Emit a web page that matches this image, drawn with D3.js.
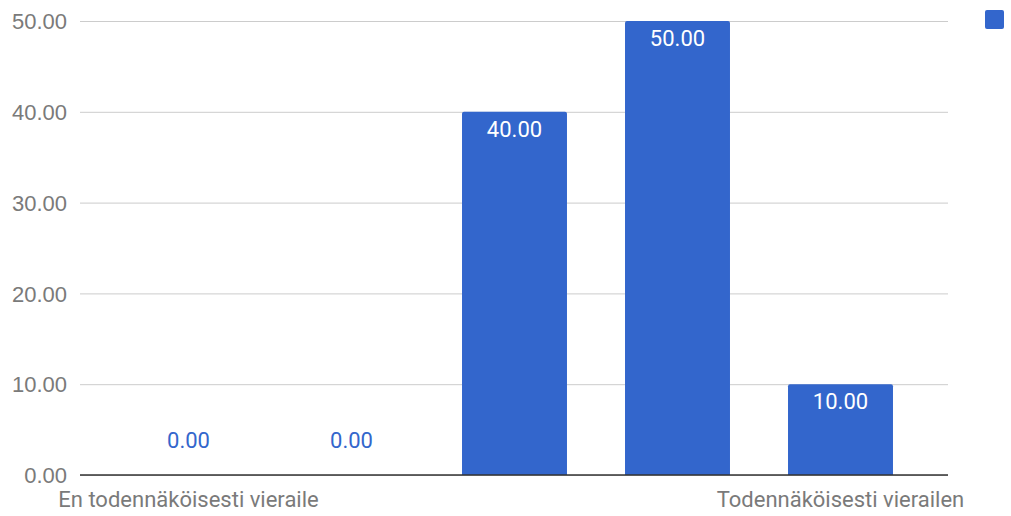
<!DOCTYPE html>
<html>
<head>
<meta charset="utf-8">
<script src="https://cdn.jsdelivr.net/npm/d3@7/dist/d3.min.js"></script>
<style>
  html, body { margin: 0; padding: 0; background: #fff; }
  svg { display: block; font-family: Roboto, "Noto Sans", Arial, sans-serif; }
</style>
</head>
<body>
<svg id="chart" width="1011" height="516"></svg>
<script>
// Five-point scale, only the end points carry a label
const categories = ["1", "2", "3", "4", "5"];
const categoryLabels = ["En todennäköisesti vieraile", "", "", "", "Todennäköisesti vierailen"];
const values = [0, 0, 40, 50, 10];
const yTicks = [0, 10, 20, 30, 40, 50];

const barColor = "#3366cc";
const svg = d3.select("#chart");

const plot = { left: 80, right: 948, top: 21, bottom: 475 };

const x = d3.scaleBand()
  .domain(categories)
  .range([107, 922])
  .paddingInner(0.356)
  .paddingOuter(0.178);

const y = d3.scaleLinear()
  .domain([0, 50])
  .range([plot.bottom, plot.top]);

// horizontal gridlines with tick labels
const yAxis = d3.axisLeft(y)
  .tickValues(yTicks)
  .tickFormat(d3.format(".2f"))
  .tickSize(-(plot.right - plot.left))
  .tickPadding(13);

const gy = svg.append("g")
  .attr("transform", `translate(${plot.left},0)`)
  .call(yAxis);
gy.select(".domain").remove();
gy.selectAll(".tick line").attr("stroke", "#cccccc").attr("stroke-width", 1);
gy.selectAll(".tick text")
  .attr("fill", "#7a7a7a")
  .attr("font-size", 22)
  .attr("dy", "0.35em");

// bars with slightly rounded tops
function barPath(x0, w, yTop, yBase, r) {
  const h = yBase - yTop;
  if (h <= 0) return "";
  r = Math.min(r, h);
  return `M${x0},${yBase}V${yTop + r}Q${x0},${yTop} ${x0 + r},${yTop}H${x0 + w - r}Q${x0 + w},${yTop} ${x0 + w},${yTop + r}V${yBase}Z`;
}

svg.append("g")
  .selectAll("path")
  .data(values)
  .join("path")
  .attr("d", (d, i) => barPath(x(categories[i]), x.bandwidth(), y(d), y(0), 2))
  .attr("fill", barColor);

// baseline
svg.append("line")
  .attr("x1", plot.left).attr("x2", plot.right)
  .attr("y1", y(0)).attr("y2", y(0))
  .attr("stroke", "#333333").attr("stroke-width", 1.5);

// value labels: inside the bar top, or above the baseline for empty bars
svg.append("g")
  .selectAll("text")
  .data(values)
  .join("text")
  .attr("x", (d, i) => x(categories[i]) + x.bandwidth() / 2)
  .attr("y", d => d > 0 ? y(d) + 17.5 : y(0) - 35)
  .attr("dy", "0.35em")
  .attr("text-anchor", "middle")
  .attr("font-size", 22)
  .attr("fill", d => d > 0 ? "#ffffff" : barColor)
  .text(d => d3.format(".2f")(d));

// category labels
svg.append("g")
  .selectAll("text")
  .data(categoryLabels)
  .join("text")
  .attr("x", (d, i) => x(categories[i]) + x.bandwidth() / 2)
  .attr("y", 507)
  .attr("text-anchor", "middle")
  .attr("font-size", 22)
  .attr("fill", "#7a7a7a")
  .text(d => d);

// legend swatch
svg.append("rect")
  .attr("x", 985).attr("y", 10)
  .attr("width", 19).attr("height", 19)
  .attr("rx", 2)
  .attr("fill", barColor);
</script>
</body>
</html>
